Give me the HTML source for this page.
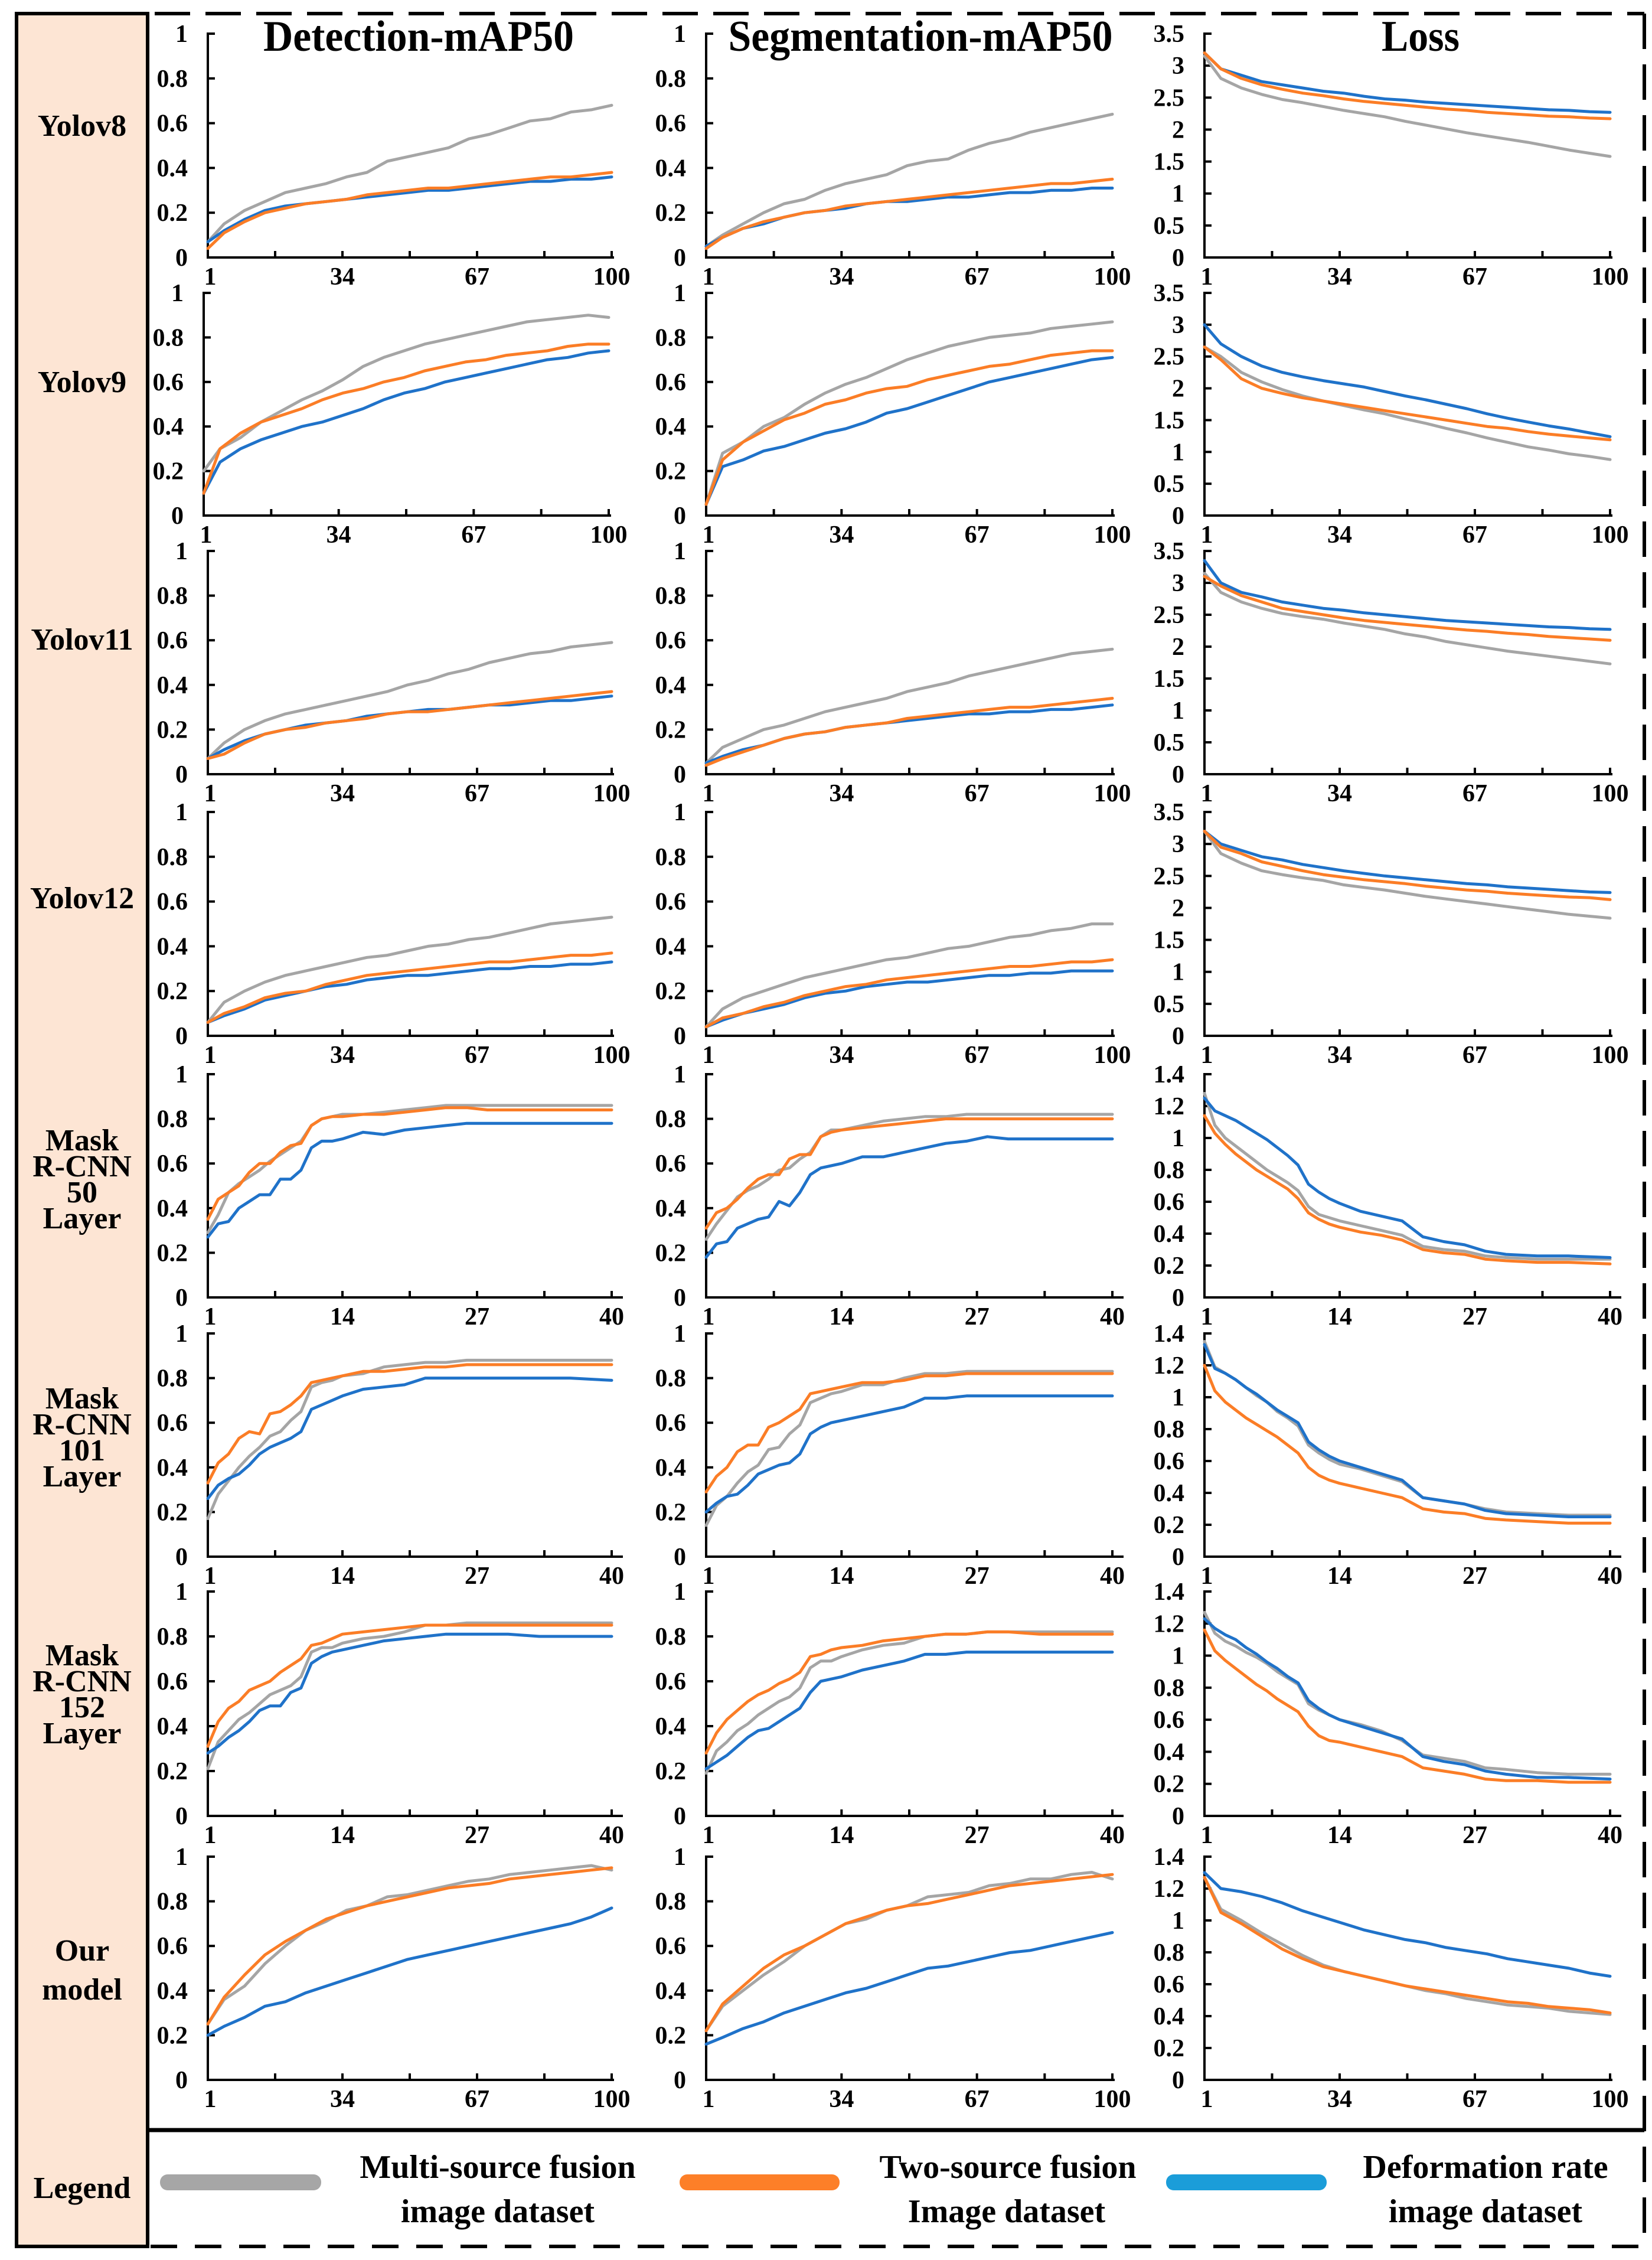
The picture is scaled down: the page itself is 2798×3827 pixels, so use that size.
<!DOCTYPE html>
<html><head><meta charset="utf-8"><title>Training curves</title>
<style>html,body{margin:0;padding:0;background:#fff}svg{display:block}text{font-family:"Liberation Serif",serif;font-weight:bold;fill:#000}</style>
</head><body>
<svg id="fig" xmlns="http://www.w3.org/2000/svg" width="2798" height="3827" viewBox="0 0 2798 3827">
<rect x="28" y="23" width="222" height="3781" fill="#fde5d4" stroke="#000" stroke-width="6"/>
<line x1="262" y1="23" x2="2785" y2="23" stroke="#000" stroke-width="6" stroke-dasharray="60,26"/>
<line x1="2785" y1="23" x2="2785" y2="3804" stroke="#000" stroke-width="6" stroke-dasharray="60,26"/>
<line x1="255" y1="3804" x2="2785" y2="3804" stroke="#000" stroke-width="6" stroke-dasharray="45,30"/>
<line x1="250" y1="3607" x2="2785" y2="3607" stroke="#000" stroke-width="7"/>
<text x="709" y="86" text-anchor="middle" font-size="74" textLength="526" lengthAdjust="spacingAndGlyphs">Detection-mAP50</text>
<text x="1559" y="86" text-anchor="middle" font-size="74" textLength="651" lengthAdjust="spacingAndGlyphs">Segmentation-mAP50</text>
<text x="2406" y="86" text-anchor="middle" font-size="74" textLength="132" lengthAdjust="spacingAndGlyphs">Loss</text>
<g font-size="52" text-anchor="middle">
<text x="139" y="230">Yolov8</text>
<text x="139" y="664">Yolov9</text>
<text x="139" y="1100">Yolov11</text>
<text x="139" y="1538">Yolov12</text>
<text x="139" y="1948"><tspan x="139">Mask</tspan><tspan x="139" dy="44">R-CNN</tspan><tspan x="139" dy="44">50</tspan><tspan x="139" dy="44">Layer</tspan></text>
<text x="139" y="2385"><tspan x="139">Mask</tspan><tspan x="139" dy="44">R-CNN</tspan><tspan x="139" dy="44">101</tspan><tspan x="139" dy="44">Layer</tspan></text>
<text x="139" y="2820"><tspan x="139">Mask</tspan><tspan x="139" dy="44">R-CNN</tspan><tspan x="139" dy="44">152</tspan><tspan x="139" dy="44">Layer</tspan></text>
<text x="139" y="3320"><tspan x="139">Our</tspan><tspan x="139" dy="66">model</tspan></text>
<text x="139" y="3722">Legend</text>
</g>
<g font-size="56" text-anchor="middle">
<rect x="271" y="3682" width="273" height="27" rx="13" fill="#a6a6a6"/>
<text x="843" y="3688">Multi-source fusion</text>
<text x="843" y="3763">image dataset</text>
<rect x="1151" y="3682" width="271" height="27" rx="13" fill="#fd7f28"/>
<text x="1707" y="3688">Two-source fusion</text>
<text x="1705" y="3763">Image dataset</text>
<rect x="1975" y="3682" width="272" height="27" rx="13" fill="#1b9dd9"/>
<text x="2516" y="3688">Deformation rate</text>
<text x="2516" y="3763">image dataset</text>
</g>
<g id="charts"></g>
</svg>
<script>
const X100=[1,5,10,15,20,25,30,35,40,45,50,55,60,65,70,75,80,85,90,95,100];
const X40=[1,2,3,4,5,6,7,8,9,10,11,12,13,14,16,18,20,22,24,26,28,30,33,36,40];
const TICKS100=[1,34,67,100];
const TICKS40=[1,14,27,40];
const YT1=[0,0.2,0.4,0.6,0.8,1];
const YT35=[0,0.5,1,1.5,2,2.5,3,3.5];
const YT14=[0,0.2,0.4,0.6,0.8,1,1.2,1.4];

// Yolov8
const v8DetGray=[0.07,0.15,0.21,0.25,0.29,0.31,0.33,0.36,0.38,0.43,0.45,0.47,0.49,0.53,0.55,0.58,0.61,0.62,0.65,0.66,0.68];
const v8DetOrange=[0.04,0.11,0.16,0.2,0.22,0.24,0.25,0.26,0.28,0.29,0.3,0.31,0.31,0.32,0.33,0.34,0.35,0.36,0.36,0.37,0.38];
const v8DetBlue=[0.07,0.12,0.17,0.21,0.23,0.24,0.25,0.26,0.27,0.28,0.29,0.3,0.3,0.31,0.32,0.33,0.34,0.34,0.35,0.35,0.36];
const v8SegGray=[0.05,0.1,0.15,0.2,0.24,0.26,0.3,0.33,0.35,0.37,0.41,0.43,0.44,0.48,0.51,0.53,0.56,0.58,0.6,0.62,0.64];
const v8SegOrange=[0.04,0.09,0.13,0.16,0.18,0.2,0.21,0.23,0.24,0.25,0.26,0.27,0.28,0.29,0.3,0.31,0.32,0.33,0.33,0.34,0.35];
const v8SegBlue=[0.05,0.09,0.13,0.15,0.18,0.2,0.21,0.22,0.24,0.25,0.25,0.26,0.27,0.27,0.28,0.29,0.29,0.3,0.3,0.31,0.31];
const v8LossGray=[3.15,2.8,2.65,2.55,2.47,2.42,2.36,2.3,2.25,2.2,2.13,2.07,2.01,1.95,1.9,1.85,1.8,1.74,1.68,1.63,1.58];
const v8LossOrange=[3.2,2.95,2.8,2.7,2.63,2.57,2.53,2.48,2.44,2.41,2.38,2.35,2.32,2.3,2.27,2.25,2.23,2.21,2.2,2.18,2.17];
const v8LossBlue=[3.2,2.95,2.85,2.75,2.7,2.65,2.6,2.57,2.52,2.48,2.46,2.43,2.41,2.39,2.37,2.35,2.33,2.31,2.3,2.28,2.27];
// Yolov9
const v9DetGray=[0.2,0.3,0.35,0.42,0.47,0.52,0.56,0.61,0.67,0.71,0.74,0.77,0.79,0.81,0.83,0.85,0.87,0.88,0.89,0.9,0.89];
const v9DetOrange=[0.1,0.3,0.37,0.42,0.45,0.48,0.52,0.55,0.57,0.6,0.62,0.65,0.67,0.69,0.7,0.72,0.73,0.74,0.76,0.77,0.77];
const v9DetBlue=[0.1,0.24,0.3,0.34,0.37,0.4,0.42,0.45,0.48,0.52,0.55,0.57,0.6,0.62,0.64,0.66,0.68,0.7,0.71,0.73,0.74];
const v9SegGray=[0.05,0.28,0.33,0.4,0.44,0.5,0.55,0.59,0.62,0.66,0.7,0.73,0.76,0.78,0.8,0.81,0.82,0.84,0.85,0.86,0.87];
const v9SegOrange=[0.05,0.25,0.33,0.38,0.43,0.46,0.5,0.52,0.55,0.57,0.58,0.61,0.63,0.65,0.67,0.68,0.7,0.72,0.73,0.74,0.74];
const v9SegBlue=[0.05,0.22,0.25,0.29,0.31,0.34,0.37,0.39,0.42,0.46,0.48,0.51,0.54,0.57,0.6,0.62,0.64,0.66,0.68,0.7,0.71];
const v9LossGray=[2.65,2.5,2.25,2.1,1.98,1.88,1.8,1.73,1.66,1.6,1.52,1.45,1.37,1.3,1.22,1.15,1.08,1.03,0.97,0.93,0.88];
const v9LossOrange=[2.65,2.45,2.15,2.0,1.92,1.85,1.8,1.75,1.7,1.65,1.6,1.55,1.5,1.45,1.4,1.37,1.32,1.28,1.25,1.22,1.19];
const v9LossBlue=[3.0,2.7,2.5,2.35,2.25,2.18,2.12,2.07,2.02,1.95,1.88,1.82,1.75,1.68,1.6,1.53,1.47,1.41,1.36,1.3,1.24];
// Yolov11
const v11DetGray=[0.07,0.14,0.2,0.24,0.27,0.29,0.31,0.33,0.35,0.37,0.4,0.42,0.45,0.47,0.5,0.52,0.54,0.55,0.57,0.58,0.59];
const v11DetOrange=[0.07,0.09,0.14,0.18,0.2,0.21,0.23,0.24,0.25,0.27,0.28,0.28,0.29,0.3,0.31,0.32,0.33,0.34,0.35,0.36,0.37];
const v11DetBlue=[0.07,0.11,0.15,0.18,0.2,0.22,0.23,0.24,0.26,0.27,0.28,0.29,0.29,0.3,0.31,0.31,0.32,0.33,0.33,0.34,0.35];
const v11SegGray=[0.05,0.12,0.16,0.2,0.22,0.25,0.28,0.3,0.32,0.34,0.37,0.39,0.41,0.44,0.46,0.48,0.5,0.52,0.54,0.55,0.56];
const v11SegOrange=[0.04,0.07,0.1,0.13,0.16,0.18,0.19,0.21,0.22,0.23,0.25,0.26,0.27,0.28,0.29,0.3,0.3,0.31,0.32,0.33,0.34];
const v11SegBlue=[0.05,0.08,0.11,0.13,0.16,0.18,0.19,0.21,0.22,0.23,0.24,0.25,0.26,0.27,0.27,0.28,0.28,0.29,0.29,0.3,0.31];
const v11LossGray=[3.15,2.85,2.7,2.6,2.52,2.47,2.43,2.37,2.32,2.27,2.2,2.15,2.08,2.03,1.98,1.93,1.89,1.85,1.81,1.77,1.73];
const v11LossOrange=[3.1,2.95,2.8,2.7,2.6,2.55,2.5,2.45,2.41,2.38,2.35,2.32,2.29,2.26,2.24,2.21,2.19,2.16,2.14,2.12,2.1];
const v11LossBlue=[3.35,3.0,2.85,2.78,2.7,2.65,2.6,2.57,2.53,2.5,2.47,2.44,2.41,2.39,2.37,2.35,2.33,2.31,2.3,2.28,2.27];
// Yolov12
const v12DetGray=[0.06,0.15,0.2,0.24,0.27,0.29,0.31,0.33,0.35,0.36,0.38,0.4,0.41,0.43,0.44,0.46,0.48,0.5,0.51,0.52,0.53];
const v12DetOrange=[0.06,0.1,0.13,0.17,0.19,0.2,0.23,0.25,0.27,0.28,0.29,0.3,0.31,0.32,0.33,0.33,0.34,0.35,0.36,0.36,0.37];
const v12DetBlue=[0.06,0.09,0.12,0.16,0.18,0.2,0.22,0.23,0.25,0.26,0.27,0.27,0.28,0.29,0.3,0.3,0.31,0.31,0.32,0.32,0.33];
const v12SegGray=[0.04,0.12,0.17,0.2,0.23,0.26,0.28,0.3,0.32,0.34,0.35,0.37,0.39,0.4,0.42,0.44,0.45,0.47,0.48,0.5,0.5];
const v12SegOrange=[0.04,0.08,0.1,0.13,0.15,0.18,0.2,0.22,0.23,0.25,0.26,0.27,0.28,0.29,0.3,0.31,0.31,0.32,0.33,0.33,0.34];
const v12SegBlue=[0.04,0.07,0.1,0.12,0.14,0.17,0.19,0.2,0.22,0.23,0.24,0.24,0.25,0.26,0.27,0.27,0.28,0.28,0.29,0.29,0.29];
const v12LossGray=[3.2,2.85,2.7,2.58,2.52,2.47,2.43,2.36,2.32,2.28,2.23,2.18,2.14,2.1,2.06,2.02,1.98,1.94,1.9,1.87,1.84];
const v12LossOrange=[3.2,2.95,2.85,2.72,2.65,2.58,2.52,2.48,2.44,2.41,2.38,2.34,2.31,2.28,2.26,2.23,2.21,2.19,2.17,2.16,2.13];
const v12LossBlue=[3.2,3.0,2.9,2.8,2.75,2.68,2.63,2.58,2.54,2.5,2.47,2.44,2.41,2.38,2.36,2.33,2.31,2.29,2.27,2.25,2.24];
// Mask R-CNN 50
const m50DetGray=[0.29,0.37,0.47,0.51,0.54,0.57,0.61,0.64,0.67,0.7,0.77,0.8,0.81,0.82,0.82,0.83,0.84,0.85,0.86,0.86,0.86,0.86,0.86,0.86,0.86];
const m50DetOrange=[0.35,0.44,0.47,0.5,0.56,0.6,0.6,0.65,0.68,0.69,0.77,0.8,0.81,0.81,0.82,0.82,0.83,0.84,0.85,0.85,0.84,0.84,0.84,0.84,0.84];
const m50DetBlue=[0.27,0.33,0.34,0.4,0.43,0.46,0.46,0.53,0.53,0.57,0.67,0.7,0.7,0.71,0.74,0.73,0.75,0.76,0.77,0.78,0.78,0.78,0.78,0.78,0.78];
const m50SegGray=[0.26,0.33,0.39,0.45,0.48,0.5,0.53,0.57,0.58,0.62,0.65,0.72,0.75,0.75,0.77,0.79,0.8,0.81,0.81,0.82,0.82,0.82,0.82,0.82,0.82];
const m50SegOrange=[0.31,0.38,0.4,0.44,0.49,0.53,0.55,0.55,0.62,0.64,0.64,0.72,0.74,0.75,0.76,0.77,0.78,0.79,0.8,0.8,0.8,0.8,0.8,0.8,0.8];
const m50SegBlue=[0.18,0.24,0.25,0.31,0.33,0.35,0.36,0.43,0.41,0.47,0.55,0.58,0.59,0.6,0.63,0.63,0.65,0.67,0.69,0.7,0.72,0.71,0.71,0.71,0.71];
const m50LossGray=[1.28,1.08,1.0,0.95,0.9,0.85,0.8,0.76,0.72,0.67,0.57,0.52,0.5,0.48,0.45,0.42,0.39,0.32,0.3,0.29,0.26,0.25,0.24,0.24,0.24];
const m50LossOrange=[1.14,1.03,0.96,0.9,0.85,0.8,0.76,0.72,0.68,0.62,0.53,0.49,0.46,0.44,0.41,0.39,0.36,0.3,0.28,0.27,0.24,0.23,0.22,0.22,0.21];
const m50LossBlue=[1.25,1.17,1.14,1.11,1.07,1.03,0.99,0.94,0.89,0.83,0.71,0.66,0.62,0.59,0.54,0.51,0.48,0.38,0.35,0.33,0.29,0.27,0.26,0.26,0.25];
// Mask R-CNN 101
const m101DetGray=[0.17,0.28,0.34,0.4,0.45,0.49,0.54,0.56,0.61,0.65,0.76,0.78,0.79,0.81,0.82,0.85,0.86,0.87,0.87,0.88,0.88,0.88,0.88,0.88,0.88];
const m101DetOrange=[0.33,0.42,0.46,0.53,0.56,0.55,0.64,0.65,0.68,0.72,0.78,0.79,0.8,0.81,0.83,0.83,0.84,0.85,0.85,0.86,0.86,0.86,0.86,0.86,0.86];
const m101DetBlue=[0.26,0.32,0.35,0.37,0.41,0.46,0.49,0.51,0.53,0.56,0.66,0.68,0.7,0.72,0.75,0.76,0.77,0.8,0.8,0.8,0.8,0.8,0.8,0.8,0.79];
const m101SegGray=[0.14,0.23,0.27,0.33,0.38,0.41,0.48,0.49,0.55,0.59,0.69,0.71,0.73,0.74,0.77,0.77,0.8,0.82,0.82,0.83,0.83,0.83,0.83,0.83,0.83];
const m101SegOrange=[0.29,0.36,0.4,0.47,0.5,0.5,0.58,0.6,0.63,0.66,0.73,0.74,0.75,0.76,0.78,0.78,0.79,0.81,0.81,0.82,0.82,0.82,0.82,0.82,0.82];
const m101SegBlue=[0.2,0.24,0.27,0.28,0.32,0.37,0.39,0.41,0.42,0.46,0.55,0.58,0.6,0.61,0.63,0.65,0.67,0.71,0.71,0.72,0.72,0.72,0.72,0.72,0.72];
const m101LossGray=[1.35,1.19,1.15,1.11,1.06,1.01,0.97,0.91,0.87,0.82,0.7,0.65,0.61,0.58,0.55,0.51,0.47,0.37,0.35,0.33,0.3,0.28,0.27,0.26,0.26];
const m101LossOrange=[1.2,1.04,0.97,0.92,0.87,0.83,0.79,0.75,0.7,0.65,0.56,0.51,0.48,0.46,0.43,0.4,0.37,0.3,0.28,0.27,0.24,0.23,0.22,0.21,0.21];
const m101LossBlue=[1.33,1.18,1.15,1.11,1.06,1.02,0.97,0.92,0.88,0.84,0.72,0.67,0.63,0.6,0.56,0.52,0.48,0.37,0.35,0.33,0.29,0.27,0.26,0.25,0.25];
// Mask R-CNN 152
const m152DetGray=[0.21,0.33,0.38,0.43,0.46,0.5,0.54,0.56,0.58,0.62,0.73,0.75,0.75,0.77,0.79,0.8,0.82,0.85,0.85,0.86,0.86,0.86,0.86,0.86,0.86];
const m152DetOrange=[0.31,0.42,0.48,0.51,0.56,0.58,0.6,0.64,0.67,0.7,0.76,0.77,0.79,0.81,0.82,0.83,0.84,0.85,0.85,0.85,0.85,0.85,0.85,0.85,0.85];
const m152DetBlue=[0.28,0.31,0.35,0.38,0.42,0.47,0.49,0.49,0.55,0.57,0.68,0.71,0.73,0.74,0.76,0.78,0.79,0.8,0.81,0.81,0.81,0.81,0.8,0.8,0.8];
const m152SegGray=[0.19,0.29,0.33,0.38,0.41,0.45,0.48,0.51,0.53,0.57,0.66,0.69,0.69,0.71,0.74,0.76,0.77,0.8,0.81,0.81,0.82,0.82,0.82,0.82,0.82];
const m152SegOrange=[0.28,0.37,0.43,0.47,0.51,0.54,0.56,0.59,0.61,0.64,0.71,0.72,0.74,0.75,0.76,0.78,0.79,0.8,0.81,0.81,0.82,0.82,0.81,0.81,0.81];
const m152SegBlue=[0.21,0.24,0.27,0.31,0.35,0.38,0.39,0.42,0.45,0.48,0.55,0.6,0.61,0.62,0.65,0.67,0.69,0.72,0.72,0.73,0.73,0.73,0.73,0.73,0.73];
const m152LossGray=[1.27,1.14,1.09,1.06,1.02,0.99,0.95,0.9,0.86,0.82,0.7,0.66,0.63,0.6,0.57,0.53,0.47,0.38,0.36,0.34,0.3,0.29,0.27,0.26,0.26];
const m152LossOrange=[1.16,1.03,0.97,0.92,0.87,0.82,0.78,0.73,0.69,0.65,0.56,0.5,0.47,0.46,0.43,0.4,0.37,0.3,0.28,0.26,0.23,0.22,0.22,0.21,0.21];
const m152LossBlue=[1.23,1.17,1.13,1.1,1.05,1.01,0.96,0.92,0.87,0.83,0.72,0.67,0.63,0.6,0.56,0.52,0.48,0.37,0.34,0.32,0.28,0.26,0.24,0.24,0.23];
// Our model
const ourDetGray=[0.25,0.36,0.42,0.52,0.6,0.67,0.71,0.76,0.78,0.82,0.83,0.85,0.87,0.89,0.9,0.92,0.93,0.94,0.95,0.96,0.94];
const ourDetOrange=[0.25,0.37,0.47,0.56,0.62,0.67,0.72,0.75,0.78,0.8,0.82,0.84,0.86,0.87,0.88,0.9,0.91,0.92,0.93,0.94,0.95];
const ourDetBlue=[0.2,0.24,0.28,0.33,0.35,0.39,0.42,0.45,0.48,0.51,0.54,0.56,0.58,0.6,0.62,0.64,0.66,0.68,0.7,0.73,0.77];
const ourSegGray=[0.22,0.33,0.4,0.47,0.53,0.6,0.65,0.7,0.72,0.76,0.78,0.82,0.83,0.84,0.87,0.88,0.9,0.9,0.92,0.93,0.9];
const ourSegOrange=[0.22,0.34,0.42,0.5,0.56,0.6,0.65,0.7,0.73,0.76,0.78,0.79,0.81,0.83,0.85,0.87,0.88,0.89,0.9,0.91,0.92];
const ourSegBlue=[0.16,0.19,0.23,0.26,0.3,0.33,0.36,0.39,0.41,0.44,0.47,0.5,0.51,0.53,0.55,0.57,0.58,0.6,0.62,0.64,0.66];
const ourLossGray=[1.27,1.07,1.0,0.92,0.85,0.78,0.72,0.68,0.65,0.62,0.59,0.56,0.54,0.51,0.49,0.47,0.46,0.45,0.43,0.42,0.41];
const ourLossOrange=[1.27,1.05,0.98,0.9,0.82,0.76,0.71,0.68,0.65,0.62,0.59,0.57,0.55,0.53,0.51,0.49,0.48,0.46,0.45,0.44,0.42];
const ourLossBlue=[1.3,1.2,1.18,1.15,1.11,1.06,1.02,0.98,0.94,0.91,0.88,0.86,0.83,0.81,0.79,0.76,0.74,0.72,0.7,0.67,0.65];

const ROWTOP=[57,496,933,1375,1819,2258,2695,3144];
const ROWZERO=[436,873,1311,1754,2197,2636,3075,3522];
const COLX0=[352,1196,2040];
const COLXT=[1036,1884,2727];
const ROWNAMES=['yolov8','yolov9','yolov11','yolov12','mask-rcnn-50','mask-rcnn-101','mask-rcnn-152','our-model'];
const COLNAMES=['detection','segmentation','loss'];
const ROWDATA=[
 [[v8DetGray,v8DetOrange,v8DetBlue],[v8SegGray,v8SegOrange,v8SegBlue],[v8LossGray,v8LossOrange,v8LossBlue]],
 [[v9DetGray,v9DetOrange,v9DetBlue],[v9SegGray,v9SegOrange,v9SegBlue],[v9LossGray,v9LossOrange,v9LossBlue]],
 [[v11DetGray,v11DetOrange,v11DetBlue],[v11SegGray,v11SegOrange,v11SegBlue],[v11LossGray,v11LossOrange,v11LossBlue]],
 [[v12DetGray,v12DetOrange,v12DetBlue],[v12SegGray,v12SegOrange,v12SegBlue],[v12LossGray,v12LossOrange,v12LossBlue]],
 [[m50DetGray,m50DetOrange,m50DetBlue],[m50SegGray,m50SegOrange,m50SegBlue],[m50LossGray,m50LossOrange,m50LossBlue]],
 [[m101DetGray,m101DetOrange,m101DetBlue],[m101SegGray,m101SegOrange,m101SegBlue],[m101LossGray,m101LossOrange,m101LossBlue]],
 [[m152DetGray,m152DetOrange,m152DetBlue],[m152SegGray,m152SegOrange,m152SegBlue],[m152LossGray,m152LossOrange,m152LossBlue]],
 [[ourDetGray,ourDetOrange,ourDetBlue],[ourSegGray,ourSegOrange,ourSegBlue],[ourLossGray,ourLossOrange,ourLossBlue]]
];
const SERIESNAMES=['multi-source','two-source','deformation-rate'];
const COLORS=['#a5a5a5','#fb7d26','#1f72c9'];

const NS='http://www.w3.org/2000/svg';
const root=document.getElementById('charts');
function mk(tag,attrs,parent){const e=document.createElementNS(NS,tag);for(const k in attrs)e.setAttribute(k,attrs[k]);parent.appendChild(e);return e;}

for(let r=0;r<8;r++){
 const is40=(r>=4&&r<=6);
 const xs=is40?X40:X100;
 const xmax=is40?40:100;
 const xticks=is40?TICKS40:TICKS100;
 for(let c=0;c<3;c++){
  const g=mk('g',{},root);
  
  
  const x0=COLX0[c]-((r===1&&c===0)?7:0);
  const xt=COLXT[c]-((r===1&&c===0)?5:0);
  const top=ROWTOP[r], zero=ROWZERO[r];
  const yt=(c<2)?YT1:(r<4?YT35:YT14);
  const ymax=yt[yt.length-1];
  const sx=v=>x0+(v-1)/(xmax-1)*(xt-x0);
  const sy=v=>zero-v/ymax*(zero-top);
  const xEnd=is40?xt+19:xt+4;
  // axes
  const ax=mk('path',{d:'M'+(x0+12)+','+top+' H'+x0+' V'+zero+' H'+xEnd,fill:'none',stroke:'#000','stroke-width':4},g);
  
  
  // y ticks
  yt.forEach(v=>{
   const y=sy(v);
   if(v>0&&v<ymax){const t=mk('line',{x1:x0,y1:y,x2:x0+12,y2:y,stroke:'#000','stroke-width':4},g);
    
    }
   const l=mk('text',{x:x0-34,y:y+14,'text-anchor':'end','font-size':42},g);
   l.textContent=String(v);
   
   
  });
  // x minor ticks (6 intervals)
  for(let i=1;i<=6;i++){
   const xv=1+(xmax-1)*i/6;
   const t=mk('line',{x1:sx(xv),y1:zero,x2:sx(xv),y2:zero-11,stroke:'#000','stroke-width':4},g);
   
   
  }
  xticks.forEach(v=>{
   const l=mk('text',{x:sx(v)+(v===1?4:0),y:zero+46,'text-anchor':'middle','font-size':42},g);
   l.textContent=String(v);
   
   
  });
  // series: gray, blue, orange draw order
  [0,2,1].forEach(s=>{
   const vals=ROWDATA[r][c][s];
   const d=vals.map((v,i)=>(i?'L':'M')+sx(xs[i]).toFixed(1)+','+sy(v).toFixed(1)).join(' ');
   const p=mk('path',{d:d,fill:'none',stroke:COLORS[s],'stroke-width':5,'stroke-linejoin':'round','stroke-linecap':'round'},g);
   
   
  });
 }
}
</script>
</body></html>
